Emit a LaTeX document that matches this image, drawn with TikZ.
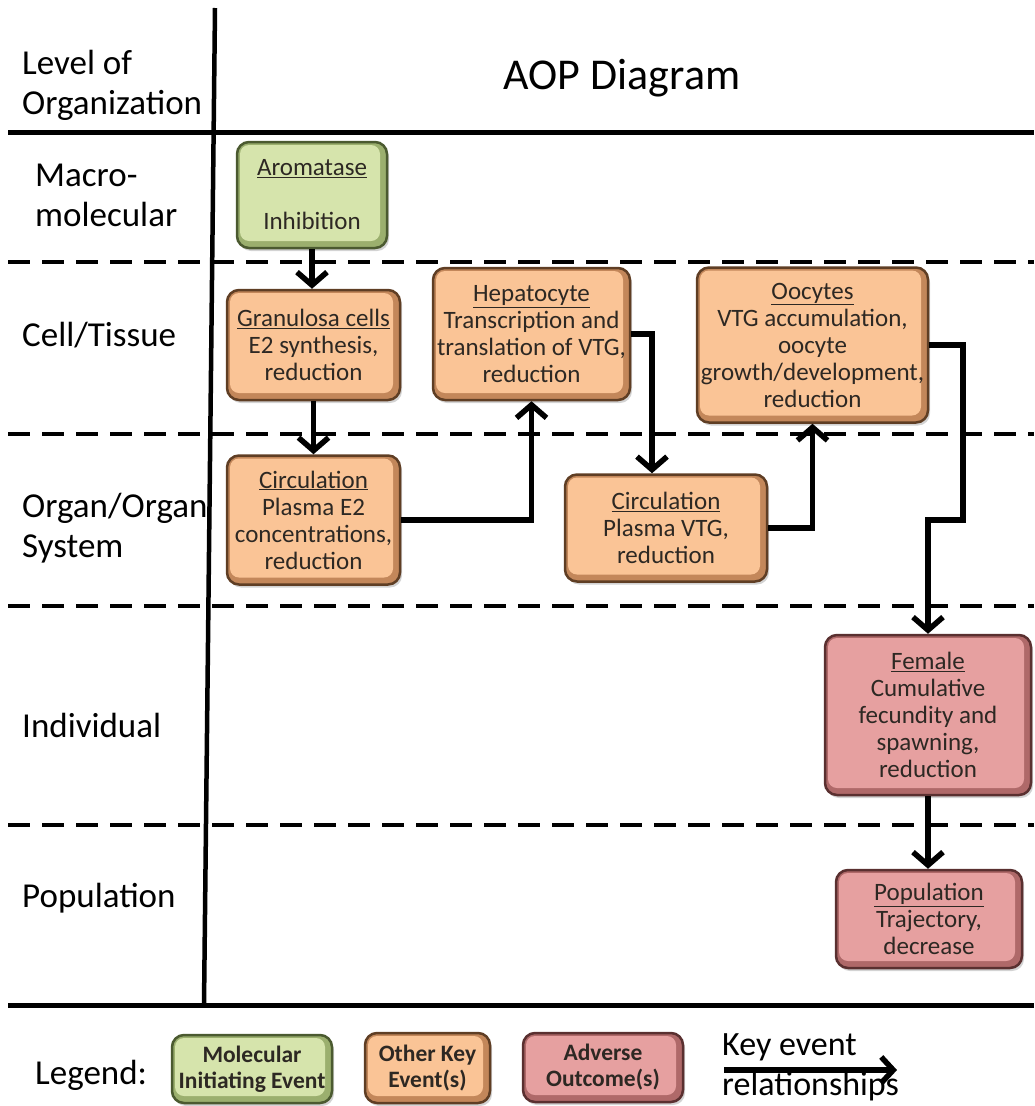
\documentclass[tikz,border=0pt]{standalone}
\usepackage{fontspec}
\setmainfont{Carlito}
\usetikzlibrary{arrows.meta,shadows}
\definecolor{gface}{RGB}{214,228,172}
\definecolor{gbevel}{RGB}{155,175,110}
\definecolor{gborder}{RGB}{75,90,48}
\definecolor{oface}{RGB}{250,196,150}
\definecolor{obevel}{RGB}{195,135,90}
\definecolor{oborder}{RGB}{95,62,36}
\definecolor{rface}{RGB}{230,160,160}
\definecolor{rbevel}{RGB}{175,105,105}
\definecolor{rborder}{RGB}{90,48,48}
\definecolor{txtc}{RGB}{45,40,35}
\newcommand\boxfnt{\fontsize{25}{27}\selectfont}
\newcommand\lvlfnt{\fontsize{35}{40}\selectfont}
\newcommand\legfnt{\fontsize{23.5}{26}\selectfont\bfseries}
\tikzset{
  kebox/.style n args={3}{rounded corners=12pt, line width=2.5pt, draw=#3, fill=#2,
    align=center, text=txtc, inner sep=0pt, font=\boxfnt,
    drop shadow={shadow xshift=2pt, shadow yshift=-3pt, opacity=0.35},
    path picture={\fill[#1, rounded corners=9pt]
      ([shift={(3pt,-3pt)}]path picture bounding box.north west) rectangle
      ([shift={(-7pt,7pt)}]path picture bounding box.south east);}},
  mie/.style={kebox={gface}{gbevel}{gborder}},
  oke/.style={kebox={oface}{obevel}{oborder}},
  ao/.style={kebox={rface}{rbevel}{rborder}},
  lvl/.style={anchor=west, align=left, inner sep=0pt, font=\lvlfnt},
  arr/.style={line width=5.5pt, -{Straight Barb[length=13pt,width=30pt]}},
  solidsep/.style={line width=5pt},
  dashsep/.style={line width=4.5pt, dash pattern=on 22pt off 12pt},
}
\begin{document}
\begin{tikzpicture}[x=1pt,y=-1pt]
\useasboundingbox (0,0) rectangle (1034,1106);
% grid lines
\draw[solidsep] (8,132) -- (1034,132);
\draw[solidsep] (8,1005) -- (1034,1005);
\foreach \yy in {262,434,606,825} \draw[dashsep] (8,\yy) -- (1034,\yy);
\draw[line width=4.5pt] (215,8) -- (204,1005);
% header and level labels
\node[lvl] (hdr) at (22,85) {Level of\\Organization};
\node[font=\fontsize{44}{50}\selectfont] (title) at (622,78) {AOP Diagram};
\node[lvl] (lmac) at (35,195) {Macro-\\molecular};
\node[lvl] (lcell) at (22,335) {Cell/Tissue};
\node[lvl] (lorg) at (22,528) {Organ/Organ\\System};
\node[lvl] (lind) at (22,725) {Individual};
\node[lvl] (lpop) at (22,898) {Population};
% boxes
\node[mie, minimum width=150pt, minimum height=106pt] (aro) at (312,195)
  {\underline{Aromatase}\\[27pt]Inhibition};
\node[oke, minimum width=173pt, minimum height=110pt] (gran) at (313.5,345)
  {\underline{Granulosa cells}\\E2 synthesis,\\reduction};
\node[oke, minimum width=197pt, minimum height=132pt] (hep) at (531.5,334)
  {\underline{Hepatocyte}\\Transcription and\\translation of VTG,\\reduction};
\node[oke, minimum width=231pt, minimum height=155pt] (ooc) at (812.5,345)
  {\underline{Oocytes}\\VTG accumulation,\\oocyte\\growth/development,\\reduction};
\node[oke, minimum width=173pt, minimum height=129pt] (circE) at (313.5,520)
  {\underline{Circulation}\\Plasma E2\\concentrations,\\reduction};
\node[oke, minimum width=202pt, minimum height=107pt] (circV) at (666,528)
  {\underline{Circulation}\\Plasma VTG,\\reduction};
\node[ao, minimum width=206pt, minimum height=160pt] (fem) at (928,715)
  {\underline{Female}\\Cumulative\\fecundity and\\spawning,\\reduction};
\node[ao, minimum width=186pt, minimum height=98pt] (pop) at (929,919)
  {\underline{Population}\\Trajectory,\\decrease};
% connectors
\coordinate (hv) at (652,0);
\coordinate (b1) at (963,520);
\draw[arr] (aro.south) -- (aro.south |- gran.north);
\draw[arr] (gran.south) -- (circE.north);
\draw[arr] (circE.east) -| (hep.south);
\draw[arr] (hep.east) -| (circV.north -| hv);
\draw[arr] (circV.east) -| (ooc.south);
\draw[arr] (ooc.east) -| (b1) -| (fem.north);
\draw[arr] (fem.south) -- (fem.south |- pop.north);
% legend
\node[lvl] (leg) at (35,1075) {Legend:};
\node[mie, font=\legfnt, minimum width=160pt, minimum height=68pt] (lgm) at (252,1069)
  {Molecular\\Initiating Event};
\node[oke, font=\legfnt, minimum width=125pt, minimum height=70pt] (lgo) at (427.5,1068)
  {Other Key\\Event(s)};
\node[ao, font=\legfnt, minimum width=160pt, minimum height=69pt] (lga) at (603,1067.5)
  {Adverse\\Outcome(s)};
\node[anchor=west, inner sep=0pt, font=\fontsize{34}{38}\selectfont] (lkt) at (722,1047) {Key event};
\node[anchor=west, inner sep=0pt, font=\fontsize{34}{38}\selectfont] (lkb) at (722,1086) {relationships};
\coordinate (la) at (724,1070);
\coordinate (lb) at (897,1070);
\draw[line width=5.5pt, -{Straight Barb[length=12pt,width=26pt]}] (la) -- (lb);
\end{tikzpicture}
\end{document}
